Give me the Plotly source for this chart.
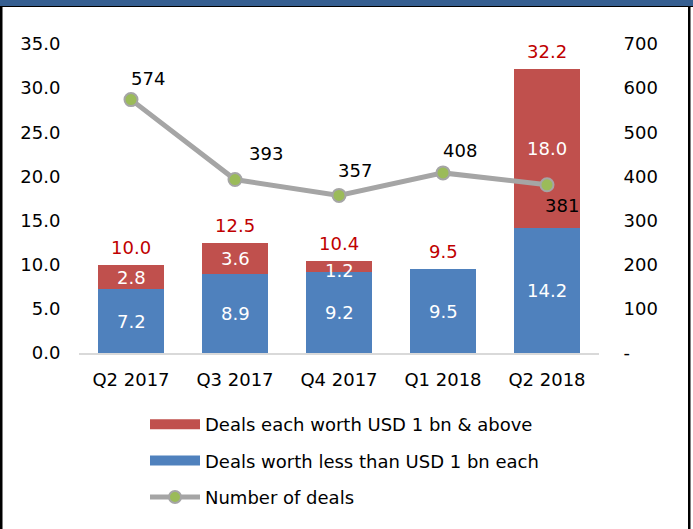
import plotly.graph_objects as go

categories = ["Q2 2017", "Q3 2017", "Q4 2017", "Q1 2018", "Q2 2018"]
small_deals = [7.2, 8.9, 9.2, 9.5, 14.2]
large_deals = [2.8, 3.6, 1.2, 0.0, 18.0]
totals = [10.0, 12.5, 10.4, 9.5, 32.2]
num_deals = [574, 393, 357, 408, 381]
left_ticks = [0, 5, 10, 15, 20, 25, 30, 35]
right_tickvals = [0, 100, 200, 300, 400, 500, 600, 700]
right_ticktext = ["-", "100", "200", "300", "400", "500", "600", "700"]
names = ["Deals each worth USD 1 bn & above",
         "Deals worth less than USD 1 bn each",
         "Number of deals"]

RED = "#C0504D"
BLUE = "#4F81BD"
GRAY = "#A5A5A5"
GREEN = "#9BBB59"
FONT = "DejaVu Sans"
FS = 18

W, H = 693, 529
L, R, T, B = 79, 599, 44, 353


def px(x):
    return (x - L) / (R - L)


def py(y):
    return (B - y) / (B - T)


fig = go.Figure()
fig.add_trace(go.Bar(x=categories, y=small_deals, marker_color=BLUE,
                     marker_line_width=0, width=0.635, showlegend=False,
                     name=names[1]))
fig.add_trace(go.Bar(x=categories, y=large_deals, marker_color=RED,
                     marker_line_width=0, width=0.635, showlegend=False,
                     name=names[0]))
fig.add_trace(go.Scatter(x=categories, y=num_deals, yaxis="y2",
                         mode="lines+markers", name=names[2],
                         line=dict(color=GRAY, width=5),
                         marker=dict(color=GREEN, size=13,
                                     line=dict(color=GRAY, width=2)),
                         showlegend=False))
# legend proxies
fig.add_trace(go.Scatter(x=[None], y=[None], mode="lines", name=names[0],
                         line=dict(color=RED, width=11), legendgroup="a"))
fig.add_trace(go.Scatter(x=[None], y=[None], mode="lines", name=names[1],
                         line=dict(color=BLUE, width=11), legendgroup="b"))
fig.add_trace(go.Scatter(x=[None], y=[None], mode="lines+markers",
                         name=names[2], legendgroup="c",
                         line=dict(color=GRAY, width=5),
                         marker=dict(color=GREEN, size=12,
                                     line=dict(color=GRAY, width=2))))

ann = []
for c, s, l, t in zip(categories, small_deals, large_deals, totals):
    ann.append(dict(x=c, y=s / 2, text=f"{s:.1f}", showarrow=False,
                    font=dict(color="white", size=FS, family=FONT)))
    if l > 0:
        ann.append(dict(x=c, y=s + l / 2, text=f"{l:.1f}", showarrow=False,
                        yshift=-4 if l < 2 else 0,
                        font=dict(color="white", size=FS, family=FONT)))
    ann.append(dict(x=c, y=t, text=f"{t:.1f}", showarrow=False,
                    yanchor="bottom", yshift=5,
                    font=dict(color="#C00000", size=FS, family=FONT)))

line_label_offsets = [(17, 21), (31, 26), (16, 25), (17, 22), (15, -21)]
for c, n, (dx, dy) in zip(categories, num_deals, line_label_offsets):
    ann.append(dict(x=c, y=n, yref="y2", text=str(n), showarrow=False,
                    xshift=dx, yshift=dy,
                    font=dict(color="black", size=FS, family=FONT)))

shapes = [
    dict(type="rect", xref="paper", yref="paper", x0=px(0), x1=px(W),
         y0=py(6), y1=py(0), fillcolor="#365F91", line_width=0, layer="above"),
    dict(type="rect", xref="paper", yref="paper", x0=px(0), x1=px(W),
         y0=py(7), y1=py(6), fillcolor="#000000", line_width=0, layer="above"),
    dict(type="rect", xref="paper", yref="paper", x0=px(0), x1=px(2.5),
         y0=py(H), y1=py(6), fillcolor="#000000", line_width=0, layer="above"),
    dict(type="rect", xref="paper", yref="paper", x0=px(688), x1=px(690.5),
         y0=py(H), y1=py(6), fillcolor="#000000", line_width=0, layer="above"),
]

fig.update_layout(
    width=W, height=H,
    margin=dict(l=L, r=W - R, t=T, b=H - B, pad=0),
    barmode="stack",
    plot_bgcolor="white", paper_bgcolor="white",
    font=dict(family=FONT, size=FS, color="black"),
    annotations=ann, shapes=shapes,
    xaxis=dict(showgrid=False, showline=True, linecolor="#D9D9D9",
               linewidth=2, ticks="outside", ticklen=9,
               tickcolor="rgba(0,0,0,0)", tickfont=dict(size=FS)),
    yaxis=dict(range=[0, 35], tickvals=left_ticks, tickformat=".1f",
               showgrid=False, zeroline=False, showline=False,
               ticks="outside", ticklen=14, tickcolor="rgba(0,0,0,0)"),
    yaxis2=dict(range=[0, 700], overlaying="y", side="right",
                tickvals=right_tickvals, ticktext=right_ticktext,
                showgrid=False, zeroline=False, showline=False,
                ticks="outside", ticklen=20, tickcolor="rgba(0,0,0,0)"),
    legend=dict(x=px(145), y=py(406), xanchor="left", yanchor="top",
                orientation="v", tracegroupgap=10, itemwidth=50,
                font=dict(size=FS, family=FONT), bgcolor="rgba(0,0,0,0)"),
)

fig.write_html("out.html",
               config={"displayModeBar": False},
               post_script="document.body.style.margin='0';"
                           "document.body.style.overflow='hidden';")
